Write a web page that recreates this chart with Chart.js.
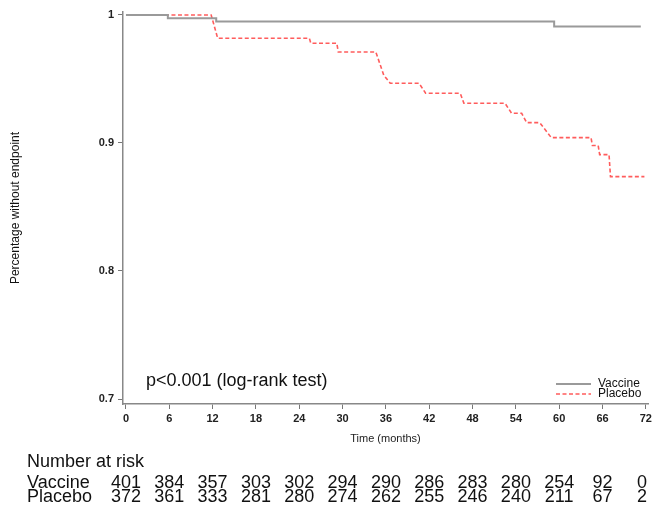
<!DOCTYPE html>
<html>
<head>
<meta charset="utf-8">
<script src="https://cdn.jsdelivr.net/npm/chart.js@4"></script>
<style>
  html, body { margin: 0; padding: 0; background: #fff; }
  #wrap { width: 655px; height: 508px; }
</style>
</head>
<body>
<div id="wrap"><canvas id="myChart" width="655" height="508"></canvas></div>
<script>
// tick labels / risk table months
const months = [0, 6, 12, 18, 24, 30, 36, 42, 48, 54, 60, 66, 72];
const yTicks = [0.7, 0.8, 0.9, 1];

// Kaplan-Meier curve vertices
const vaccineTime = [0, 5.8, 12.5, 59.3, 71.3];
const vaccineSurv = [1, 0.9974, 0.9948, 0.9909, 0.9909];

const placeboTime = [0, 11.8, 12.7, 25.4, 25.6, 29.2, 29.4, 34.6, 35.7, 36.6, 40.6, 41.5,
  46.3, 46.8, 52.5, 53.4, 54.8, 55.5, 57.3, 58.9, 64.4, 64.6, 65.4, 65.6, 66.9, 67.1, 71.8];
const placeboSurv = [1, 1, 0.9818, 0.9818, 0.9779, 0.9779, 0.9711, 0.9711, 0.9530, 0.9466, 0.9466, 0.9388,
  0.9388, 0.9310, 0.9310, 0.9232, 0.9232, 0.9159, 0.9159, 0.9042, 0.9042, 0.8980, 0.8980, 0.8909, 0.8909, 0.8737, 0.8737];

const riskVaccine = [401, 384, 357, 303, 302, 294, 290, 286, 283, 280, 254, 92, 0];
const riskPlacebo = [372, 361, 333, 281, 280, 274, 262, 255, 246, 240, 211, 67, 2];

const toPoints = (xs, ys) => xs.map((x, i) => ({ x: x, y: ys[i] }));

const extras = {
  id: 'extras',
  afterDraw(chart) {
    const c = chart.ctx;
    const xs = chart.scales.x;
    c.save();
    c.fillStyle = '#111';
    c.textBaseline = 'middle';
    c.textAlign = 'left';
    c.font = '18px "Liberation Sans", Arial, sans-serif';
    c.fillText('p<0.001 (log-rank test)', 146, 381);

    // legend
    const ds = chart.data.datasets;
    const legY = [384, 394];
    ds.forEach((d, i) => {
      c.beginPath();
      c.strokeStyle = d.borderColor;
      c.lineWidth = d.borderWidth;
      c.setLineDash(d.borderDash || []);
      c.moveTo(556, legY[i]);
      c.lineTo(591, legY[i]);
      c.stroke();
    });
    c.setLineDash([]);
    c.font = '12px "Liberation Sans", Arial, sans-serif';
    c.fillStyle = '#111';
    ds.forEach((d, i) => c.fillText(d.label, 598, legY[i]));

    // number at risk table
    c.textBaseline = 'alphabetic';
    c.font = '18px "Liberation Sans", Arial, sans-serif';
    c.fillText('Number at risk', 27, 467);
    c.fillText('Vaccine', 27, 488);
    c.fillText('Placebo', 27, 502);
    c.textAlign = 'center';
    months.forEach((m, i) => {
      const px = Math.min(xs.getPixelForValue(m), 642);
      c.fillText(String(riskVaccine[i]), px, 488);
      c.fillText(String(riskPlacebo[i]), px, 502);
    });
    c.restore();
  }
};

const ctx = document.getElementById('myChart');
new Chart(ctx, {
  type: 'line',
  data: {
    datasets: [{
      label: 'Vaccine',
      data: toPoints(vaccineTime, vaccineSurv),
      borderColor: '#9a9a9a',
      borderWidth: 2,
      stepped: 'before',
      pointRadius: 0,
      fill: false
    },
    {
      label: 'Placebo',
      data: toPoints(placeboTime, placeboSurv),
      borderColor: '#ff5c5c',
      borderWidth: 1.6,
      borderDash: [4, 2.5],
      pointRadius: 0,
      tension: 0,
      fill: false
    }]
  },
  options: {
    responsive: false,
    animation: false,
    layout: { padding: { left: 0, right: 5, top: 12, bottom: 0 } },
    plugins: {
      legend: { display: false },
      tooltip: { enabled: false }
    },
    scales: {
      x: {
        type: 'linear',
        min: -0.41,
        max: 72.3,
        afterBuildTicks: (s) => { s.ticks = months.map(v => ({ value: v })); },
        afterFit: (s) => { s.height = 104; },
        border: { display: true, color: '#888', width: 1.5 },
        grid: { display: true, drawOnChartArea: false, drawTicks: true, tickLength: 5, color: '#777' },
        ticks: {
          padding: 3,
          color: '#222',
          font: { family: '"Liberation Sans", Arial, sans-serif', size: 11, weight: 'bold' },
          callback: (v) => String(v)
        },
        title: {
          display: true,
          text: 'Time (months)',
          color: '#222',
          font: { family: '"Liberation Sans", Arial, sans-serif', size: 11 },
          padding: { top: 4, bottom: 62 }
        }
      },
      y: {
        min: 0.6961,
        max: 1.0023,
        afterBuildTicks: (s) => { s.ticks = yTicks.map(v => ({ value: v })); },
        afterFit: (s) => { s.width = 123; },
        border: { display: true, color: '#888', width: 1.5 },
        grid: { display: true, drawOnChartArea: false, drawTicks: true, tickLength: 5, color: '#777' },
        ticks: {
          padding: 4,
          color: '#222',
          font: { family: '"Liberation Sans", Arial, sans-serif', size: 11, weight: 'bold' },
          callback: (v) => (v === 1 ? '1' : v.toFixed(1))
        },
        title: {
          display: true,
          text: 'Percentage without endpoint',
          color: '#111',
          font: { family: '"Liberation Sans", Arial, sans-serif', size: 12 },
          padding: { top: 8, bottom: 0 }
        }
      }
    }
  },
  plugins: [extras]
});
</script>
</body>
</html>
